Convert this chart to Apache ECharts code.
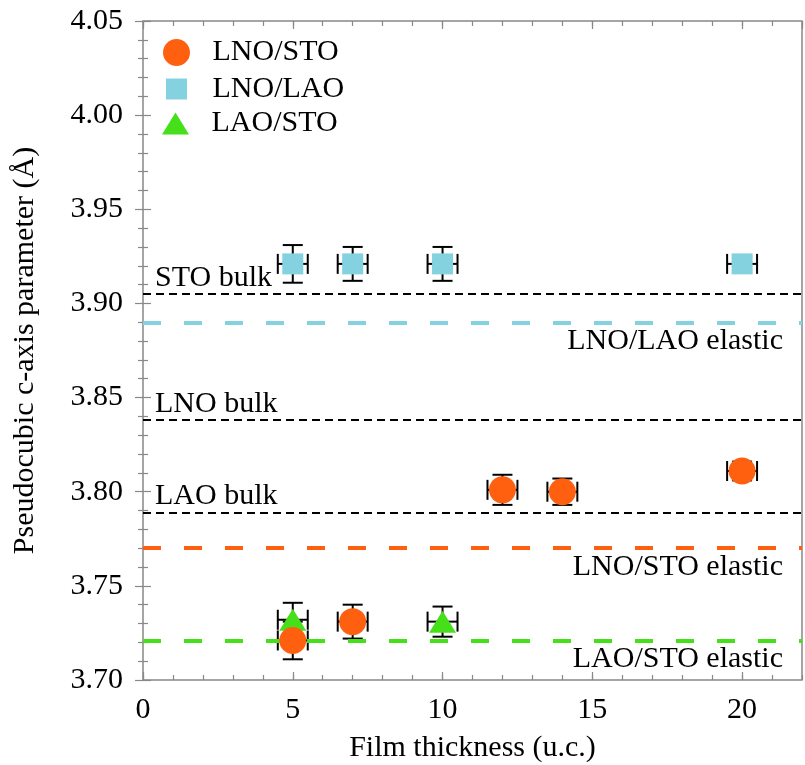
<!DOCTYPE html>
<html><head><meta charset="utf-8">
<script src="https://cdn.jsdelivr.net/npm/echarts@6/dist/echarts.min.js"></script>
<style>html,body{margin:0;padding:0;background:#fff}#c{width:805px;height:765px}</style>
</head><body><div id="c"></div>
<script>
// ---- data ----
const lnoStoX = [5, 7, 12, 14, 20];
const lnoStoY = [3.721, 3.731, 3.801, 3.800, 3.811];
const lnoStoXErr = [0.5, 0.5, 0.5, 0.5, 0.5];
const lnoStoYErr = [0.010, 0.009, 0.008, 0.007, 0.005];

const lnoLaoX = [5, 7, 10, 20];
const lnoLaoY = [3.921, 3.921, 3.921, 3.921];
const lnoLaoXErr = [0.5, 0.5, 0.5, 0.5];
const lnoLaoYErr = [0.010, 0.009, 0.009, 0.004];

const laoStoX = [5, 10];
const laoStoY = [3.732, 3.731];
const laoStoXErr = [0.5, 0.5];
const laoStoYErr = [0.009, 0.008];

const refNames = ['STO bulk', 'LNO/LAO elastic', 'LNO bulk', 'LAO bulk', 'LNO/STO elastic', 'LAO/STO elastic'];
const refValues = [3.905, 3.890, 3.838, 3.789, 3.770, 3.721];

const xTickLabels = ['0', '5', '10', '15', '20'];
const yTickLabels = ['3.70', '3.75', '3.80', '3.85', '3.90', '3.95', '4.00', '4.05'];

// ---- styles ----
const FONT = '"Liberation Serif", "Times New Roman", serif';
const FS = 30;
const C_ORANGE = '#FF6010';
const C_CYAN = '#84D1DF';
const C_GREEN = '#45E01A';
const TICK = '#888';

const refStyle = {
  'STO bulk':        {color: '#000', width: 2, dash: [8, 5], pos: 'insideStartTop', dist: [12, 1]},
  'LNO bulk':        {color: '#000', width: 2, dash: [8, 5], pos: 'insideStartTop', dist: [12, 1]},
  'LAO bulk':        {color: '#000', width: 2, dash: [8, 5], pos: 'insideStartTop', dist: [12, 1]},
  'LNO/LAO elastic': {color: C_CYAN, width: 4, dash: [18, 23], pos: 'insideEndBottom', dist: [19, 4]},
  'LNO/STO elastic': {color: C_ORANGE, width: 4, dash: [18, 23], pos: 'insideEndBottom', dist: [19, 4]},
  'LAO/STO elastic': {color: C_GREEN, width: 4, dash: [18, 23], pos: 'insideEndBottom', dist: [19, 4]}
};

function pts(xs, ys) { return xs.map((x, i) => [x, ys[i]]); }
function errPts(xs, ys, xe, ye) { return xs.map((x, i) => [x, ys[i], xe[i], ye[i]]); }

function errRender(params, api) {
  const x = api.value(0), y = api.value(1), xe = api.value(2), ye = api.value(3);
  const c = api.coord([x, y]);
  const t = api.coord([x, y + ye]), b = api.coord([x, y - ye]);
  const l = api.coord([x - xe, y]), r = api.coord([x + xe, y]);
  const h = 10;
  const st = {stroke: '#000', lineWidth: 2};
  const ln = (x1, y1, x2, y2) => ({type: 'line', shape: {x1, y1, x2, y2}, style: st});
  const ch = [];
  if (ye > 0) {
    ch.push(ln(c[0], t[1], c[0], b[1]), ln(c[0] - h, t[1], c[0] + h, t[1]), ln(c[0] - h, b[1], c[0] + h, b[1]));
  }
  if (xe > 0) {
    ch.push(ln(l[0], c[1], r[0], c[1]), ln(l[0], c[1] - h, l[0], c[1] + h), ln(r[0], c[1] - h, r[0], c[1] + h));
  }
  return {type: 'group', children: ch};
}

function errSeries(name, data) {
  return {
    type: 'custom', name: name, renderItem: errRender, data: data,
    encode: {x: 0, y: 1}, z: 2, silent: true, xAxisIndex: 0, yAxisIndex: 0
  };
}

const textBase = {fontFamily: FONT, fontSize: FS, color: '#000'};

function xAxisDef(pos, interval, len, labels) {
  return {
    type: 'value', min: 0, max: 22, interval: interval, position: pos, gridIndex: 0,
    axisLine: {show: false},
    axisTick: {show: true, inside: true, length: len, lineStyle: {color: TICK, width: 1.2}},
    splitLine: {show: false},
    axisLabel: labels ? {
      show: true, margin: 15, showMaxLabel: false, showMinLabel: true,
      fontFamily: FONT, fontSize: FS, color: '#000',
      formatter: v => { const i = xTickLabels.indexOf(String(Math.round(v))); return (Math.abs(v - Math.round(v)) < 1e-9 && i >= 0) ? xTickLabels[i] : ''; }
    } : {show: false}
  };
}

function yAxisDef(pos, labels) {
  return {
    type: 'value', min: 3.70, max: 4.05, interval: 0.05, position: pos, gridIndex: 0,
    axisLine: {show: false},
    axisTick: {show: true, inside: true, length: 8, lineStyle: {color: TICK, width: 1.2}},
    minorTick: {show: true, splitNumber: 5, length: 5, lineStyle: {color: TICK, width: 1.2}},
    splitLine: {show: false}, minorSplitLine: {show: false},
    axisLabel: labels ? {
      show: true, margin: 20, fontFamily: FONT, fontSize: FS, color: '#000',
      formatter: v => { const i = Math.round((v - 3.70) / 0.05); return yTickLabels[i] !== undefined ? yTickLabels[i] : ''; }
    } : {show: false}
  };
}

const xAxes = [
  Object.assign(xAxisDef('bottom', 5, 8, true), {
    name: 'Film thickness (u.c.)', nameLocation: 'middle', nameGap: 53, nameMoveOverlap: false,
    nameTextStyle: textBase
  }),
  xAxisDef('bottom', 1, 5, false),
  xAxisDef('top', 5, 8, false),
  xAxisDef('top', 1, 5, false)
];
const yAxes = [
  Object.assign(yAxisDef('left', true), {
    name: 'Pseudocubic c-axis parameter (\u00C5)', nameLocation: 'middle', nameGap: 103, nameMoveOverlap: false,
    nameRotate: 90, nameTextStyle: textBase
  }),
  yAxisDef('right', false)
];

function legendDef(name, left, top, h, icon) {
  const d = {name: name};
  if (icon) d.icon = icon;
  return {
    data: [d], left: left, top: top, itemWidth: 62, itemHeight: h, padding: 0,
    selectedMode: false, symbolKeepAspect: true, orient: 'vertical',
    textStyle: {fontFamily: FONT, fontSize: FS, color: '#000'}
  };
}

const option = {
  animation: false,
  backgroundColor: '#fff',
  grid: {
    show: true, left: 143, right: 3, top: 21, bottom: 85,
    borderColor: TICK, borderWidth: 1.5, containLabel: false, outerBoundsMode: 'none'
  },
  legend: [
    legendDef('LNO/STO', 163, 37.5, 27, 'circle'),
    legendDef('LNO/LAO', 166, 74, 21, 'path://M0,0H1V1H0Z'),
    legendDef('LAO/STO', 162, 108.5, 22, 'path://M13.5,0L27,22H0Z')
  ],
  xAxis: xAxes,
  yAxis: yAxes,
  series: [
    {
      type: 'line', name: 'refs', data: [], xAxisIndex: 0, yAxisIndex: 0, silent: true, z: 1,
      markLine: {
        silent: true, animation: false, symbol: ['none', 'none'], precision: 4,
        data: refNames.map((n, i) => {
          const s = refStyle[n];
          return {
            yAxis: refValues[i], name: n,
            lineStyle: {color: s.color, width: s.width, type: s.dash, cap: 'butt'},
            label: {show: true, formatter: n, position: s.pos, distance: s.dist,
                    fontFamily: FONT, fontSize: FS, color: '#000'},
            emphasis: {disabled: true}
          };
        })
      }
    },
    errSeries('errLNOLAO', errPts(lnoLaoX, lnoLaoY, lnoLaoXErr, lnoLaoYErr)),
    errSeries('errLAOSTO', errPts(laoStoX, laoStoY, laoStoXErr, laoStoYErr)),
    errSeries('errLNOSTO', errPts(lnoStoX, lnoStoY, lnoStoXErr, lnoStoYErr)),
    {
      type: 'scatter', name: 'LNO/LAO', data: pts(lnoLaoX, lnoLaoY), symbol: 'rect', symbolSize: 21,
      itemStyle: {color: C_CYAN, opacity: 1}, z: 3, xAxisIndex: 0, yAxisIndex: 0
    },
    {
      type: 'scatter', name: 'LAO/STO', data: pts(laoStoX, laoStoY), symbol: 'triangle', symbolSize: [27, 22],
      itemStyle: {color: C_GREEN, opacity: 1}, z: 4, xAxisIndex: 0, yAxisIndex: 0
    },
    {
      type: 'scatter', name: 'LNO/STO', data: pts(lnoStoX, lnoStoY), symbol: 'circle', symbolSize: 27,
      itemStyle: {color: C_ORANGE, opacity: 1}, z: 5, xAxisIndex: 0, yAxisIndex: 0
    }
  ]
};

const chart = echarts.init(document.getElementById('c'), null, {renderer: 'canvas'});
chart.setOption(option);
</script>
</body></html>
